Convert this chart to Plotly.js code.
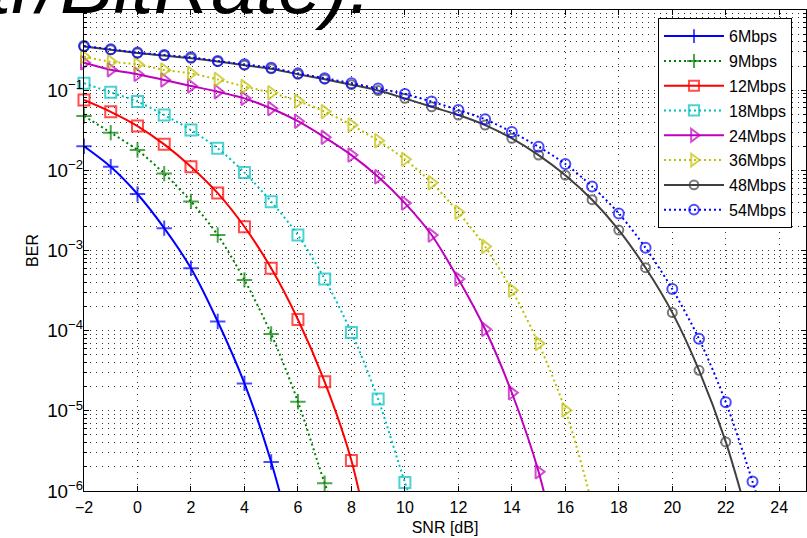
<!DOCTYPE html>
<html><head><meta charset="utf-8">
<script src="https://cdn.plot.ly/plotly-3.0.1.min.js"></script>
<style>html,body{margin:0;padding:0;background:#fff}#chart{width:807px;height:538px}</style>
</head><body><div id="chart"></div>
<script>
// SNR grid (dB)
const snr = [-2,-1,0,1,2,3,4,5,6,7,8,9,10,11,12,13,14,15,16,17,18,19,20,21,22,23,24];
const seriesNames = ['6Mbps','9Mbps','12Mbps','18Mbps','24Mbps','36Mbps','48Mbps','54Mbps'];
// BER values (starting at SNR = -2 dB, 1 dB steps)
const ber6  = [0.020, 0.0111, 0.00507, 0.0019, 6.0e-4, 1.3e-4, 2.2e-5, 2.3e-6, 1.3e-7];
const ber9  = [0.0476, 0.0295, 0.0179, 0.0091, 0.0041, 1.56e-3, 4.3e-4, 9.1e-5, 1.3e-5, 1.25e-6, 1.5e-7];
const ber12 = [0.0755, 0.0537, 0.0357, 0.0211, 0.0111, 5.2e-3, 1.98e-3, 6.0e-4, 1.38e-4, 2.3e-5, 2.4e-6, 7.2e-8];
const ber18 = [0.122, 0.094, 0.072, 0.049, 0.0318, 0.0188, 9.4e-3, 4.07e-3, 1.56e-3, 4.4e-4, 9.5e-5, 1.4e-5, 1.28e-6, 1.5e-7];
const ber24 = [0.22, 0.18, 0.158, 0.134, 0.113, 0.0957, 0.079, 0.059, 0.041, 0.0258, 0.0155, 8.3e-3, 3.9e-3, 1.56e-3, 4.4e-4, 1.04e-4, 1.68e-5, 1.74e-6, 6.8e-8];
const ber36 = [0.262, 0.226, 0.21, 0.179, 0.162, 0.136, 0.111, 0.093, 0.073, 0.054, 0.0367, 0.0234, 0.0137, 7.0e-3, 3.0e-3, 1.12e-3, 3.2e-4, 6.9e-5, 1.02e-5, 6.6e-7, 1.0e-8];
const ber48 = [0.35, 0.32, 0.29, 0.27, 0.25, 0.228, 0.205, 0.185, 0.158, 0.137, 0.117, 0.099, 0.079, 0.062, 0.049, 0.0367, 0.0251, 0.0155, 8.7e-3, 4.3e-3, 1.8e-3, 6.1e-4, 1.68e-4, 3.2e-5, 4.1e-6, 2.9e-7];
const ber54 = [0.356, 0.323, 0.294, 0.275, 0.257, 0.231, 0.21, 0.19, 0.162, 0.141, 0.122, 0.105, 0.0895, 0.072, 0.0566, 0.0433, 0.030, 0.0197, 0.012, 6.3e-3, 2.9e-3, 1.08e-3, 3.3e-4, 7.9e-5, 1.28e-5, 1.31e-6, 1.0e-7];

const allBer = [ber6, ber9, ber12, ber18, ber24, ber36, ber48, ber54];
const colors = ['#0000FF','#008000','#FF0000','#00BFBF','#BF00BF','#BFBF00','#404040','#0000FF'];
const dashes = ['solid','2px,3px','solid','2px,3px','solid','2px,3px','solid','2px,3px'];
const symbols = ['cross-thin-open','cross-thin-open','square-open','square-open','triangle-right-open','triangle-right-open','circle-open','circle-open'];
const msizes = [11,11,11,11,12,12,9,10];

const YMIN = 1e-6;
const traces = allBer.map((b, i) => ({
  type: 'scatter', mode: 'lines+markers',
  name: seriesNames[i], legendgroup: 'g' + i,
  x: snr.slice(0, b.length), y: b,
  cliponaxis: false,
  line: {color: colors[i], width: 2, dash: dashes[i], shape: 'spline', smoothing: 0.8},
  marker: {symbol: symbols[i], color: colors[i],
           size: b.map(v => v < YMIN ? 0 : msizes[i]),
           line: {color: colors[i], width: 2}}
}));

const gridDash = '1px,5px';
const gridColor = '#333';
const layout = {
  width: 807, height: 538,
  margin: {l: 84, r: 1, t: 10, b: 47},
  paper_bgcolor: '#fff', plot_bgcolor: '#fff',
  font: {family: 'Arial, "Liberation Sans", sans-serif', color: '#000', size: 16},
  showlegend: true,
  legend: {x: 0.795, y: 0.983, xanchor: 'left', yanchor: 'top',
           bgcolor: '#fff', bordercolor: '#000', borderwidth: 1,
           font: {size: 16}, tracegroupgap: 1, itemwidth: 60,
           entrywidth: 68, traceorder: 'grouped'},
  xaxis: {range: [-2, 25], tick0: 0, dtick: 2, ticks: 'inside', ticklen: 5,
          tickcolor: '#000', showline: true, linecolor: '#000', linewidth: 1, mirror: 'ticks',
          showgrid: true, gridcolor: gridColor, griddash: gridDash, gridwidth: 1, zeroline: false,
          tickfont: {size: 16}, ticklabelstandoff: 2,
          title: {text: 'SNR [dB]', font: {size: 16}, standoff: 6}},
  yaxis: {type: 'log', range: [-6, 0], dtick: 1, exponentformat: 'power', showexponent: 'all',
          ticks: 'inside', ticklen: 5, tickcolor: '#000',
          showline: true, linecolor: '#000', linewidth: 1, mirror: 'ticks',
          showgrid: true, gridcolor: gridColor, griddash: gridDash, gridwidth: 1, zeroline: false,
          tickfont: {size: 15}, ticklabelstandoff: -3,
          minor: {dtick: 'D1', ticks: 'inside', ticklen: 3, tickcolor: '#000',
                  showgrid: true, gridcolor: gridColor, griddash: gridDash, gridwidth: 1},
          title: {text: 'BER', font: {size: 16}, standoff: 4}},
  annotations: [{
    text: '<i>tr/BitRate).</i>', xref: 'paper', yref: 'paper',
    x: (373 - 84) / 722, xanchor: 'right', y: 0.954, yanchor: 'bottom',
    showarrow: false, font: {size: 80, color: '#000', family: 'Arial, "Liberation Sans", sans-serif'}
  }]
};

Plotly.newPlot('chart', traces, layout, {displayModeBar: false, staticPlot: true});
</script>
</body></html>
